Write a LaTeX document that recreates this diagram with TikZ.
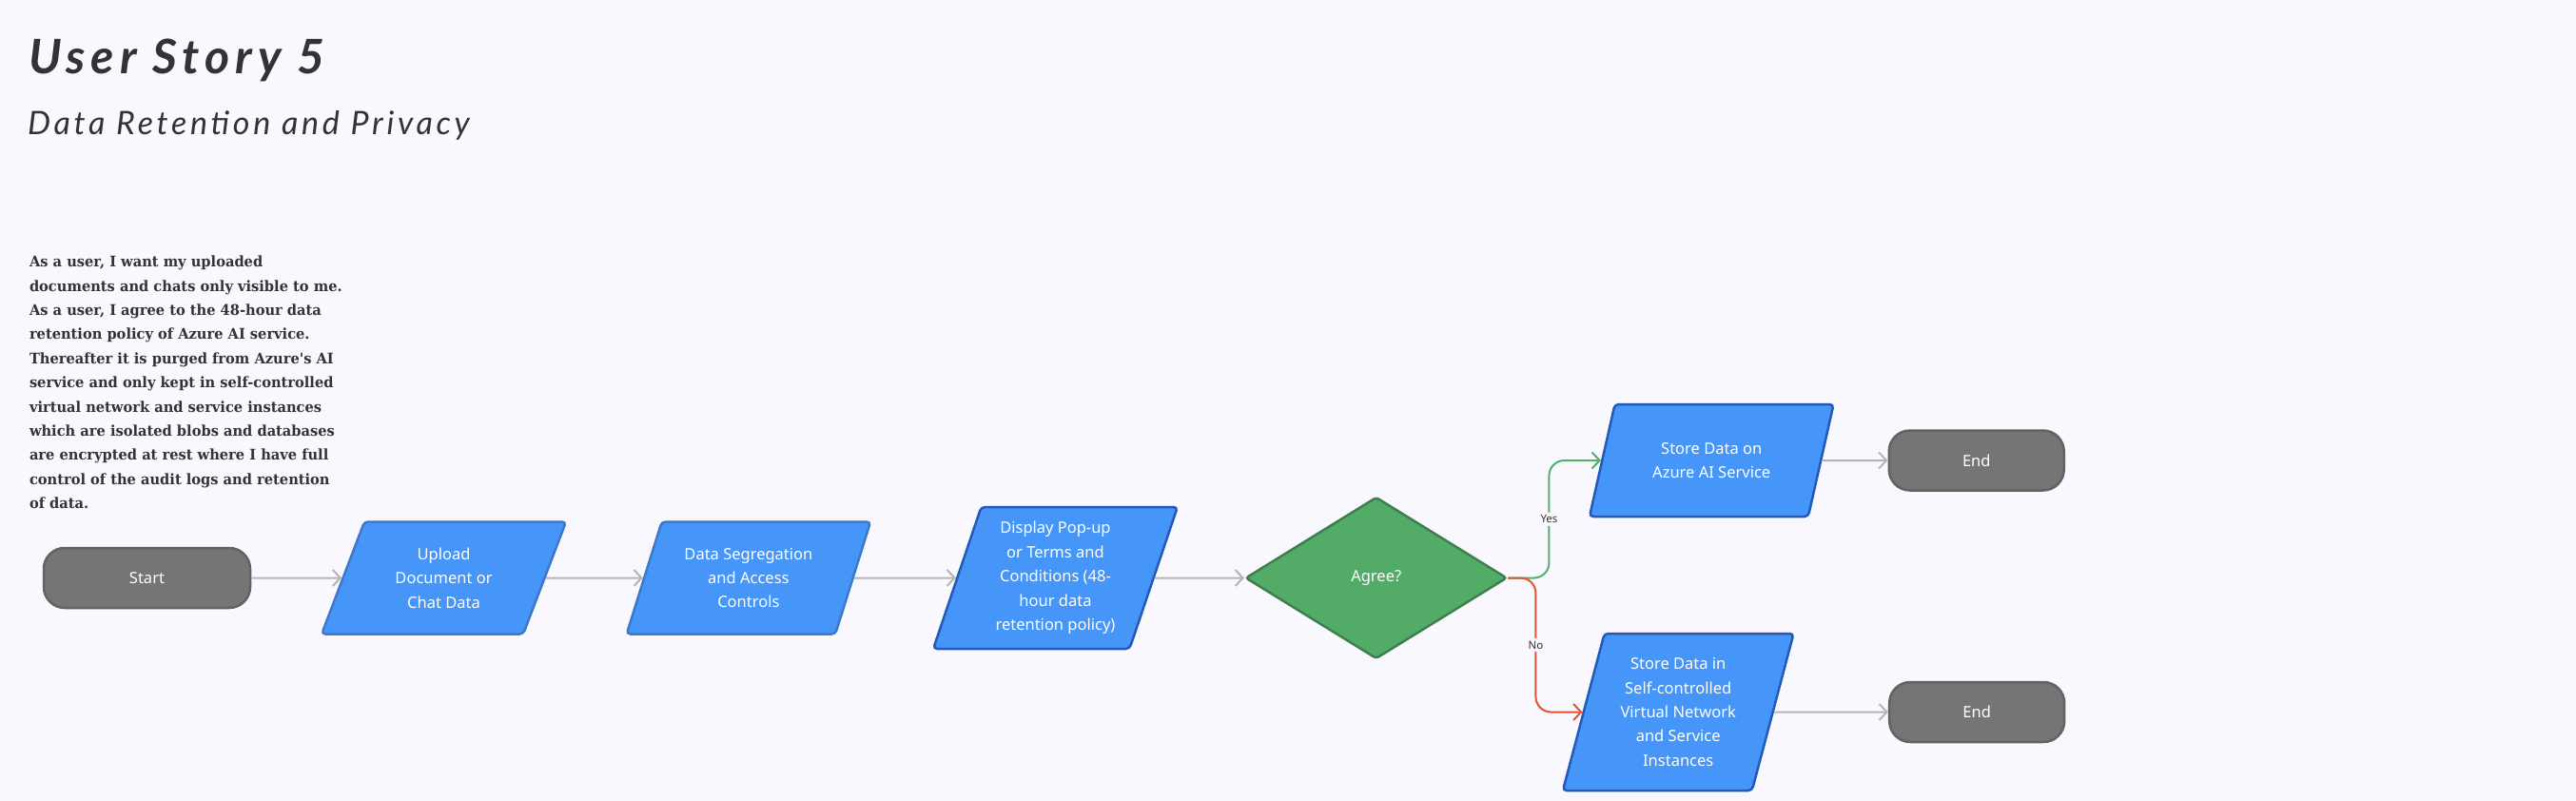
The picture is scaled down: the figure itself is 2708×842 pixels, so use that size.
\documentclass[tikz,border=0pt]{standalone}
\usepackage{fontspec}
\usepackage{tikz}
\usetikzlibrary{arrows.meta,positioning,shapes.geometric}
\setmainfont{Noto Sans}
\newfontfamily\storyfont[FakeStretch=0.95]{DejaVu Serif}
\newfontfamily\titlefont[LetterSpace=12]{Lato}
\newfontfamily\subtitlefont[LetterSpace=11]{Lato}
\definecolor{pagebg}{HTML}{FAF8FF}
\definecolor{ink}{HTML}{333333}
\definecolor{ioblue}{HTML}{4596F8}
\definecolor{ioline}{HTML}{2459B8}
\definecolor{iosoft}{HTML}{3B7AC9}
\definecolor{agreefill}{HTML}{52AB67}
\definecolor{agreeline}{HTML}{3E7F4D}
\definecolor{endfill}{HTML}{757575}
\definecolor{endline}{HTML}{636363}
\definecolor{flowgray}{HTML}{B5B5B5}
\definecolor{yesgreen}{HTML}{57AE6A}
\definecolor{nored}{HTML}{E4552D}
\tikzset{
    boxtext/.style={text=white, font=\fontsize{16.5}{25.4}\selectfont, align=center, inner sep=0pt},
    terminal/.style={boxtext, draw=endline, fill=endfill, line width=2.5pt, rounded corners=22pt, minimum height=63pt},
    iobox/.style={boxtext, trapezium, trapezium left angle=66.6, trapezium right angle=113.4, trapezium stretches=true,
        draw=ioline, fill=ioblue, line width=2.5pt, rounded corners=4pt, minimum width=257pt, minimum height=118pt},
    choice/.style={boxtext, diamond, aspect=1.63, draw=agreeline, fill=agreefill, line width=2.5pt, rounded corners=3pt,
        minimum width=275pt, minimum height=170pt},
    flowlabel/.style={fill=pagebg, text=ink, font=\fontsize{11.5}{14}\selectfont, inner sep=3pt}
}
\begin{document}
\begin{tikzpicture}[x=1pt, y=1pt, ->, >={Straight Barb[length=8pt,width=17pt]}, line width=2pt, flowgray]
    \fill[pagebg] (0,0) rectangle (2708,-842);
    \useasboundingbox (0,0) rectangle (2708,-842);

    \node[anchor=base west, inner sep=0pt, text=ink, font=\fontsize{50}{54}\selectfont\titlefont\bfseries\itshape] (title) at (29,-78) {User Story 5};
    \node[anchor=base west, inner sep=0pt, text=ink, font=\fontsize{34}{38}\selectfont\subtitlefont\itshape] (subtitle) at (28,-142) {Data Retention and Privacy};
    \node[anchor=north west, inner sep=0pt, text=ink, align=left, font=\fontsize{15.4}{25.4}\selectfont\storyfont\bfseries] (story) at (30,-268) {As a user, I want my uploaded\\documents and chats only visible to me.\\As a user, I agree to the 48-hour data\\retention policy of Azure AI service.\\Thereafter it is purged from Azure's AI\\service and only kept in self-controlled\\virtual network and service instances\\which are isolated blobs and databases\\are encrypted at rest where I have full\\control of the audit logs and retention\\of data.};

    \node[terminal, minimum width=217pt] (start) at (154.5,-607.5) {Start};
    \node[iobox, draw=iosoft] (upload) [right=95pt of start] {Upload\\Document or\\Chat Data};
    \node[iobox, draw=iosoft] (segregate) [right=102pt of upload] {Data Segregation\\and Access\\Controls};
    \node[iobox, trapezium left angle=71, trapezium right angle=109, minimum height=149pt] (terms) [right=107pt of segregate] {Display Pop-up\\or Terms and\\Conditions (48-\\hour data\\retention policy)};
    \node[choice] (agree) [right=94pt of terms] {Agree?};
    \node[iobox] (azure) [right=97.5pt of agree, yshift=123.5pt] {Store Data on\\Azure AI Service};
    \node[iobox, trapezium left angle=73.3, trapezium right angle=106.7, minimum width=243pt, minimum height=165pt] (vnet) [right=78pt of agree, yshift=-141pt] {Store Data in\\Self-controlled\\Virtual Network\\and Service\\Instances};
    \node[terminal, minimum width=184pt] (end1) [right=69pt of azure] {End};
    \node[terminal, minimum width=184pt] (end2) [right=120pt of vnet] {End};

    \path
    (start) edge (upload)
    (upload) edge (segregate)
    (segregate) edge (terms)
    (terms) edge (agree)
    (azure) edge (end1)
    (vnet) edge (end2);

    \draw[yesgreen, rounded corners=16pt] (agree.east) -- ++(43,0) |- node[pos=0.25, flowlabel] {Yes} (azure.west);
    \draw[nored, rounded corners=16pt] (agree.east) -- ++(29,0) |- node[pos=0.25, flowlabel] {No} (vnet.west);
\end{tikzpicture}
\end{document}
